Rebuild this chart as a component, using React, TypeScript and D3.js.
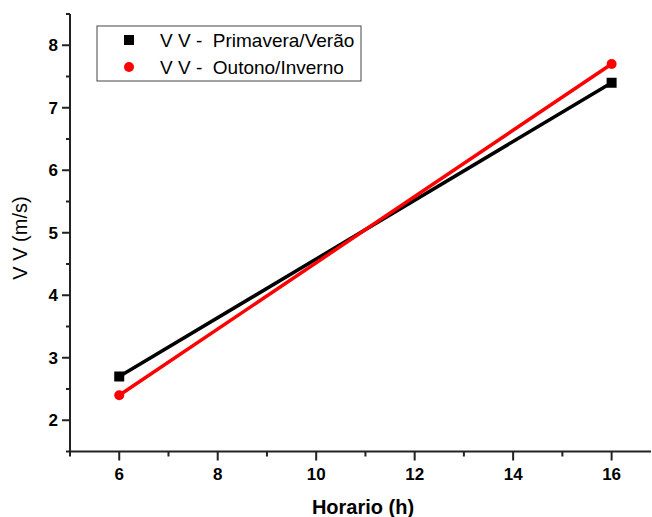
import React from "react";
import * as d3 from "d3";

const hours = [6, 16];
const primaveraVerao = [2.7, 7.4];
const outonoInverno = [2.4, 7.7];
const xTicks = [6, 8, 10, 12, 14, 16];
const yTicks = [2, 3, 4, 5, 6, 7, 8];
const seriesNames = ["V V -  Primavera/Verão", "V V -  Outono/Inverno"];

const W = 652, H = 517;
const x = d3.scaleLinear().domain([5, 16.8]).range([70, 651]);
const y = d3.scaleLinear().domain([1.5, 8.5]).range([451.5, 14]);

export default function App() {
  const line = d3.line<[number, number]>().x(d => x(d[0])).y(d => y(d[1]));
  const pv = hours.map((h, i) => [h, primaveraVerao[i]] as [number, number]);
  const oi = hours.map((h, i) => [h, outonoInverno[i]] as [number, number]);
  const xMinor = d3.range(5, 17, 1).filter(v => !xTicks.includes(v));
  const yMinor = d3.range(1.5, 8.6, 0.5).filter(v => !yTicks.includes(v));
  const font = "Arial, 'Liberation Sans', sans-serif";
  return (
    <svg width={W} height={H} style={{ position: "absolute", left: 0, top: 0 }} fontFamily={font}>
      <rect width={W} height={H} fill="#fff" />
      {/* axes */}
      <line x1={x(5)} x2={x(5)} y1={y(8.5)} y2={y(1.5)} stroke="#222" strokeWidth={2} />
      <line x1={x(5) - 1} x2={x(16.8)} y1={y(1.5)} y2={y(1.5)} stroke="#222" strokeWidth={2} />
      {yTicks.map(t => (
        <g key={"y" + t}>
          <line x1={x(5) - 8} x2={x(5)} y1={y(t)} y2={y(t)} stroke="#222" strokeWidth={2} />
          <text x={x(5) - 12} y={y(t)} dy="0.36em" textAnchor="end" fontSize={17} fontWeight="bold">{t}</text>
        </g>
      ))}
      {yMinor.map(t => (
        <line key={"ym" + t} x1={x(5) - 4} x2={x(5)} y1={y(t)} y2={y(t)} stroke="#222" strokeWidth={2} />
      ))}
      {xTicks.map(t => (
        <g key={"x" + t}>
          <line x1={x(t)} x2={x(t)} y1={y(1.5)} y2={y(1.5) + 9} stroke="#222" strokeWidth={2} />
          <text x={x(t)} y={y(1.5) + 28} textAnchor="middle" fontSize={17} fontWeight="bold">{t}</text>
        </g>
      ))}
      {xMinor.map(t => (
        <line key={"xm" + t} x1={x(t)} x2={x(t)} y1={y(1.5)} y2={y(1.5) + 5} stroke="#222" strokeWidth={2} />
      ))}
      <text x={363} y={514} textAnchor="middle" fontSize={20} fontWeight="bold">Horario (h)</text>
      <text transform={`translate(27,238) rotate(-90)`} textAnchor="middle" fontSize={20}>V V (m/s)</text>
      {/* series */}
      <path d={line(pv) || ""} fill="none" stroke="#000" strokeWidth={3.5} />
      <path d={line(oi) || ""} fill="none" stroke="#ff0000" strokeWidth={3.5} />
      {pv.map((d, i) => (
        <rect key={"pv" + i} x={x(d[0]) - 5} y={y(d[1]) - 5} width={10} height={10} fill="#000" />
      ))}
      {oi.map((d, i) => (
        <circle key={"oi" + i} cx={x(d[0])} cy={y(d[1])} r={5} fill="#ff0000" />
      ))}
      {/* legend */}
      <rect x={97} y={26} width={264} height={55} fill="#fff" stroke="#444" strokeWidth={1} />
      <rect x={124} y={35} width={10} height={10} fill="#000" />
      <circle cx={129} cy={67} r={5} fill="#ff0000" />
      <text x={160} y={40} dy="0.36em" fontSize={19} style={{ whiteSpace: "pre" }}>{seriesNames[0]}</text>
      <text x={160} y={67} dy="0.36em" fontSize={19} style={{ whiteSpace: "pre" }}>{seriesNames[1]}</text>
    </svg>
  );
}
